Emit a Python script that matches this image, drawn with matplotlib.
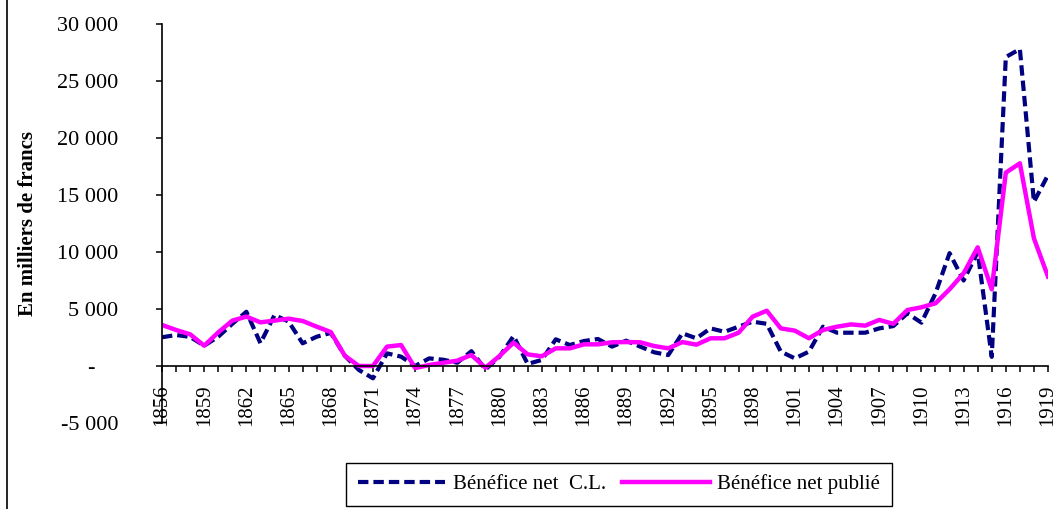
import matplotlib
matplotlib.use('Agg')
import matplotlib.pyplot as plt
from matplotlib.ticker import MultipleLocator, FixedLocator, FuncFormatter
from matplotlib.lines import Line2D

plt.rcParams['font.family'] = ['Liberation Serif', 'DejaVu Serif']

# Years and net profit series (thousands of francs)
years = list(range(1856, 1920))
label_years = list(range(1856, 1920, 3))

benefice_cl = [2520, 2720, 2550, 1780, 2570, 3700, 4760, 2000, 4470, 3900,
               1990, 2570, 2900, 900, -350, -1080, 1110, 820, 0, 670,
               550, 290, 1300, -300, 820, 2630, 180, 530, 2340, 1840,
               2190, 2370, 1700, 2220, 1700, 1200, 960, 2870, 2430, 3300,
               3000, 3450, 3890, 3700, 1260, 670, 1260, 3450, 2920, 2920,
               2920, 3300, 3500, 4620, 3800, 6370, 9900, 7500, 10000, 800,
               27100, 27800, 14400, 16750]

benefice_publie = [3600, 3160, 2780, 1780, 2950, 3980, 4330, 3830, 3980, 4150,
                   3950, 3450, 2980, 900, 0, 0, 1700, 1840, -180, 90,
                   280, 470, 965, -150, 880, 2050, 1020, 850, 1550, 1550,
                   1900, 1900, 2080, 2100, 2080, 1750, 1550, 2100, 1870, 2430,
                   2430, 2920, 4330, 4850, 3300, 3100, 2430, 3160, 3450, 3650,
                   3540, 4040, 3700, 4910, 5150, 5500, 6730, 8130, 10410, 6730,
                   16960, 17780, 11200, 7840]

fig = plt.figure(figsize=(10.53, 5.09), dpi=100)
ax = fig.add_axes([162 / 1053, 86 / 509, 886 / 1053, 399 / 509])

ax.plot(years, benefice_cl, color='#000080', lw=3, dashes=(2.5, 1.2),
        label='Bénéfice net  C.L.')
ax.plot(years, benefice_publie, color='#FF00FF', lw=3.2,
        label='Bénéfice net publié')

ax.set_xlim(1856, 1919)
ax.set_ylim(-5000, 30000)

# axes: left spine + horizontal axis at zero
for s in ['top', 'right']:
    ax.spines[s].set_visible(False)
ax.spines['bottom'].set_position(('data', 0))
ax.spines['left'].set_linewidth(1.2)
ax.spines['bottom'].set_linewidth(1.2)

ax.xaxis.set_major_locator(FixedLocator(label_years))
ax.xaxis.set_minor_locator(MultipleLocator(1))
ax.tick_params(axis='x', which='both', direction='out', length=4.5, width=1.1)
ax.tick_params(axis='x', which='major', pad=9, labelsize=15, labelrotation=90)

ax.yaxis.set_major_locator(MultipleLocator(5000))
ax.tick_params(axis='y', direction='out', length=4.5, width=1.1, pad=27, labelsize=16)


def fmt_y(v, pos):
    if v == 0:
        return '-    '
    return f'{int(v):,}'.replace(',', ' ')


ax.yaxis.set_major_formatter(FuncFormatter(fmt_y))

ax.set_ylabel('En milliers de francs', fontsize=15, fontweight='bold')
ax.yaxis.set_label_coords((38 - 162) / 886, 0.5)

leg = fig.legend(loc='center', bbox_to_anchor=(619 / 1053, 1 - 484.5 / 509),
                 ncol=2, fontsize=15, frameon=True, fancybox=False,
                 handlelength=4.2, handletextpad=0.35, columnspacing=0.8,
                 borderpad=0.55, framealpha=1)
leg.get_frame().set_edgecolor('black')
leg.get_frame().set_linewidth(1.0)

# left border of the chart area
fig.add_artist(Line2D([6.5 / 1053, 6.5 / 1053], [0, 1], color='black', lw=1.2,
                      transform=fig.transFigure))

plt.savefig('out.png', dpi=100)
